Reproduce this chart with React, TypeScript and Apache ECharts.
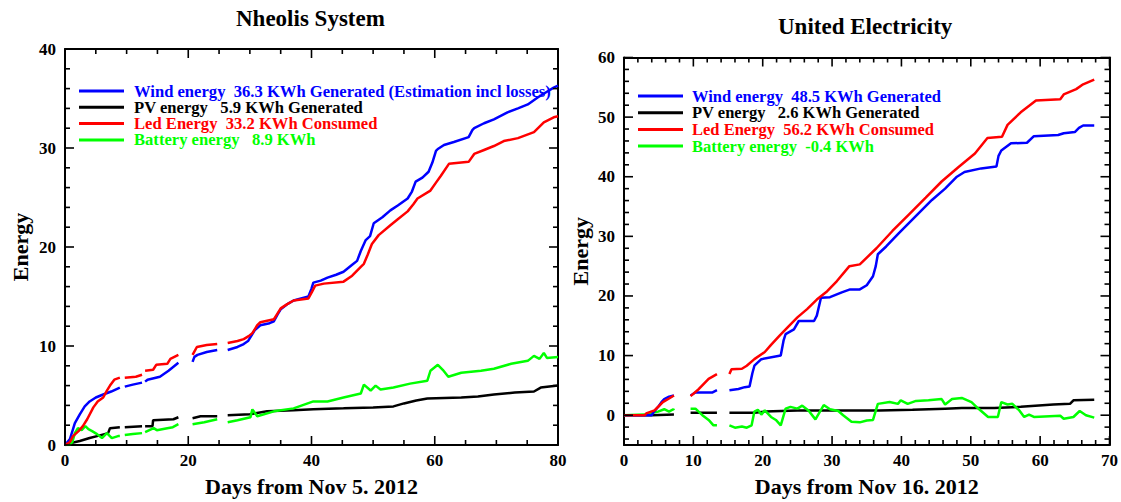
import React, { useEffect, useRef } from "react";
import * as echarts from "echarts";

type Pt = [number, number | null];

const FONT = "'Liberation Serif', 'Times New Roman', serif";

// ---------------- Left chart: Nheolis System ----------------
const leftTitle = "Nheolis System";
const leftXName = "Days from Nov 5. 2012";
const leftXRange: [number, number] = [0, 80];
const leftYRange: [number, number] = [0, 40];
const leftXTicks = [0, 20, 40, 60, 80];
const leftYTicks = [0, 10, 20, 30, 40];
const leftXMinorStep = 5;
const leftYMinorStep = 2;

const leftWindName = "Wind energy  36.3 KWh Generated (Estimation incl losses)";
const leftPvName = "PV energy   5.9 KWh Generated";
const leftLedName = "Led Energy  33.2 KWh Consumed";
const leftBatName = "Battery energy   8.9 KWh";

const leftWind: Pt[] = [
  [0, 0], [0.8, 0.6], [1.6, 2.2], [2.4, 3.1], [3.2, 3.9], [4, 4.4], [5, 4.8], [6.2, 5.1], [7.5, 5.4], [8.9, 5.8],
  [8.95, null], [9.7, 5.9], [11, 6.1], [12.5, 6.3], [12.55, null], [13, 6.4], [13.4, 6.6], [15.4, 6.9], [16.8, 7.5],
  [17.6, 7.9], [18.4, 8.3], [18.5, null], [20.7, 8.4], [21.0, 8.9], [21.5, 9.1], [23, 9.4], [24.7, 9.6], [24.8, null],
  [26.4, 9.6], [28, 9.9], [29, 10.2], [29.7, 10.5], [30.1, 10.9], [30.8, 11.6], [31.7, 12.1], [33.2, 12.3], [33.9, 12.5],
  [34.5, 13.2], [35, 13.7], [36, 14.2], [37.1, 14.6], [39.5, 15.0], [40, 15.8], [40.3, 16.4], [41.5, 16.6], [42.6, 16.9],
  [44, 17.2], [45.2, 17.5], [46.6, 18.2], [47.4, 18.6], [48, 19.6], [48.8, 20.7], [49.5, 21.1], [50.1, 22.4], [51.5, 23.0],
  [52.8, 23.7], [54, 24.2], [55.6, 24.9], [56.3, 25.6], [56.9, 26.6], [58, 27.0], [59, 27.6], [59.6, 28.5], [60.2, 29.7],
  [60.5, 29.9], [61.5, 30.3], [63.1, 30.6], [65.5, 31.1], [66.1, 31.8], [66.4, 32.0], [68, 32.5], [69.6, 32.9],
  [71.8, 33.6], [73.5, 34.0], [75.1, 34.4], [76.7, 35.1], [78, 35.6], [79.3, 36.1], [80, 36.3],
];

const leftLed: Pt[] = [
  [0, 0], [0.8, 0.3], [1.3, 0.9], [2.2, 1.4], [2.9, 1.9], [3.6, 2.6], [4.6, 3.8], [5.3, 4.4], [6.2, 4.8], [6.8, 5.5],
  [7.3, 6.0], [8.0, 6.6], [8.9, 6.8], [8.95, null], [9.7, 6.8], [11.5, 6.9], [12.5, 7.1], [12.55, null], [13, 7.5],
  [14.3, 7.6], [14.8, 8.1], [16.6, 8.2], [17.1, 8.7], [18.4, 9.1], [18.5, null], [20.7, 9.1], [21.4, 9.9], [23, 10.1],
  [24.7, 10.2], [24.8, null], [26.4, 10.3], [28, 10.5], [29, 10.7], [29.8, 11.0], [30.4, 11.3], [31.2, 12.1], [31.7, 12.4],
  [33.9, 12.7], [34.5, 13.3], [35, 13.8], [36, 14.2], [37.1, 14.6], [39.5, 14.8], [40.1, 15.5], [40.6, 16.1], [42, 16.3],
  [45.2, 16.5], [46.6, 17.1], [48, 18.0], [48.5, 18.3], [49.1, 19.2], [49.8, 20.3], [50.9, 21.2], [52.8, 22.2], [54, 22.8],
  [55.6, 23.6], [56.5, 24.3], [57.2, 24.9], [59.3, 25.7], [60.2, 26.5], [61, 27.2], [62.3, 28.4], [65.5, 28.6], [66.4, 29.4],
  [68, 29.8], [69.6, 30.2], [71.2, 30.7], [73.5, 31.0], [76.1, 31.6], [77.7, 32.6], [79.3, 33.1], [80, 33.2],
];

const leftPv: Pt[] = [
  [0, 0], [1, 0.2], [2.4, 0.4], [4, 0.7], [5.2, 0.9], [7.0, 1.2], [7.3, 1.7], [8.9, 1.8], [8.95, null], [9.7, 1.8],
  [12.5, 1.9], [12.55, null], [13, 1.9], [14.2, 1.9], [14.3, 2.5], [17.6, 2.6], [18.4, 2.8], [18.5, null], [20.7, 2.7],
  [22, 2.9], [24.7, 2.9], [24.8, null], [26.4, 3.0], [30, 3.1], [32.8, 3.4], [37.1, 3.5], [40.3, 3.6], [45.2, 3.7],
  [50, 3.8], [53.3, 3.9], [55, 4.2], [57, 4.5], [58.8, 4.7], [64.3, 4.8], [67, 4.9], [69.6, 5.1], [73, 5.3], [76.1, 5.4],
  [77.2, 5.8], [80, 6.0],
];

const leftBat: Pt[] = [
  [0, 0], [0.8, 0], [1.2, 0.3], [1.6, 1.2], [2.1, 1.7], [2.7, 1.5], [3.3, 1.9], [3.8, 1.6], [4.4, 1.4], [5.2, 1.1],
  [6, 0.7], [6.8, 1.2], [7.6, 0.7], [8.6, 0.9], [8.9, 0.9], [8.95, null], [9.7, 1.0], [11, 1.1], [12.5, 1.2], [12.55, null],
  [13, 1.3], [14.4, 1.7], [14.9, 1.5], [16.6, 1.7], [17.5, 1.8], [18.4, 2.1], [18.5, null], [20.7, 2.1], [22.6, 2.3],
  [24.7, 2.6], [24.8, null], [26.4, 2.3], [28, 2.5], [30.1, 2.8], [30.4, 3.6], [31.2, 2.9], [33.9, 3.4], [37.1, 3.7],
  [40.3, 4.4], [42.6, 4.4], [45.2, 4.8], [48, 5.2], [48.5, 6.1], [49.6, 5.5], [50.4, 6.0], [51.2, 5.6], [53.3, 5.8],
  [56, 6.2], [58.8, 6.5], [59.3, 7.5], [60.5, 8.1], [61.3, 7.6], [62.2, 6.9], [64.3, 7.3], [67.5, 7.5], [69.6, 7.7],
  [72.4, 8.2], [75.1, 8.5], [76.1, 9.0], [77, 8.7], [77.7, 9.3], [78.2, 8.8], [80, 8.9],
];

// ---------------- Right chart: United Electricity ----------------
const rightTitle = "United Electricity";
const rightXName = "Days from Nov 16. 2012";
const rightXRange: [number, number] = [0, 70];
const rightYRange: [number, number] = [-5, 60];
const rightXTicks = [0, 10, 20, 30, 40, 50, 60, 70];
const rightYTicks = [0, 10, 20, 30, 40, 50, 60];
const rightXMinorStep = 2;
const rightYMinorStep = 2;

const rightWindName = "Wind energy  48.5 KWh Generated";
const rightPvName = "PV energy   2.6 KWh Generated";
const rightLedName = "Led Energy  56.2 KWh Consumed";
const rightBatName = "Battery energy  -0.4 KWh";

const rightWind: Pt[] = [
  [0, 0], [4, 0], [4.2, 0.4], [5.0, 1.5], [5.4, 2.2], [5.8, 2.7], [6.5, 3.1], [7.2, 3.3], [7.3, null], [9.6, 3.3],
  [10.3, 3.8], [12.7, 3.8], [13.4, 4.2], [13.5, null], [15.2, 4.2], [16.5, 4.4], [17.4, 4.7], [18.1, 4.8], [18.5, 7.0],
  [18.8, 8.3], [19.8, 9.4], [22.6, 10.0], [23.0, 12.5], [23.3, 13.6], [24.5, 14.4], [25.2, 15.8], [27.4, 15.8],
  [27.8, 16.7], [28.4, 19.7], [29.7, 19.8], [31.4, 20.6], [32.6, 21.1], [34, 21.1], [35, 21.8], [35.9, 23.3],
  [36.3, 25.0], [36.6, 27.0], [37.8, 28.3], [39.6, 30.5], [42, 33.3], [44.4, 36.1], [46.3, 38.0], [48, 40.0],
  [49.1, 40.8], [51.5, 41.4], [53.7, 41.7], [54.0, 43.5], [54.4, 44.4], [55.8, 45.6], [58.1, 45.7], [59.1, 46.8],
  [62.6, 47.0], [63.4, 47.3], [65, 47.5], [65.6, 48.2], [66.2, 48.6], [67.8, 48.6],
];

const rightLed: Pt[] = [
  [0, 0], [3, 0], [3.2, 0.3], [4.4, 0.8], [5.0, 1.5], [5.6, 2.2], [6.5, 2.8], [7.2, 3.3], [7.3, null], [9.6, 3.2],
  [10.8, 4.4], [12.2, 6.1], [13.4, 6.9], [13.5, null], [15.2, 6.9], [15.5, 7.7], [17, 7.8], [17.7, 8.3], [18.8, 9.4],
  [20.3, 10.6], [21.2, 11.8], [22.4, 13.3], [23.8, 15.0], [25, 16.4], [26.4, 17.8], [27.8, 19.4], [29.3, 20.8],
  [30.7, 22.5], [32.5, 25.0], [34, 25.3], [36.4, 28.0], [38.7, 30.9], [41.1, 33.7], [43.5, 36.5], [45.8, 39.2],
  [48.2, 41.6], [50.6, 43.9], [52.4, 46.5], [54.5, 46.7], [55.3, 48.7], [57.2, 50.8], [59.4, 52.8], [62.9, 53.0],
  [63.4, 53.8], [65.2, 54.7], [66.2, 55.5], [67.8, 56.3],
];

const rightPv: Pt[] = [
  [0, 0], [4, 0], [7.2, 0.1], [7.3, null], [9.6, 0.4], [13.4, 0.4], [13.5, null], [15.2, 0.4], [18.8, 0.4], [20.3, 0.6],
  [25, 0.8], [29.7, 0.8], [36.8, 0.8], [41.6, 0.9], [46.3, 1.1], [48.7, 1.2], [53.4, 1.2], [57.2, 1.4], [61.9, 1.8],
  [64.3, 1.9], [64.8, 2.5], [67.8, 2.6],
];

const rightBat: Pt[] = [
  [0, 0], [3, 0.1], [4.9, 0.6], [5.8, 1.0], [6.5, 0.6], [7.1, 1.0], [7.2, 0.8], [7.3, null], [9.6, 1.1], [10.3, 1.1],
  [11.3, 0], [12.2, -0.8], [12.9, -1.7], [13.4, -1.7], [13.5, null], [15.2, -1.7], [16, -2.1], [17, -1.9], [17.7, -2.1],
  [18.4, -1.7], [18.8, 0.6], [19.3, 0.9], [19.8, 0.1], [20.3, 0.8], [21.2, -0.3], [21.9, -0.8], [22.6, -1.7], [23.3, 1.1],
  [24, 1.4], [25, 1.1], [25.7, 1.6], [26.6, 0.8], [27.6, -0.7], [28.8, 1.7], [29.7, 1.0], [30.9, 0.7], [31.6, 0],
  [32.8, -1.1], [34, -1.2], [35, -0.9], [35.9, -0.8], [36.6, 1.9], [38.3, 2.2], [39.5, 1.9], [39.9, 2.5], [40.9, 1.9],
  [42.1, 2.4], [43.9, 2.5], [45.8, 2.7], [46.3, 1.8], [47.3, 2.7], [48.7, 2.9], [50.1, 2.2], [51, 1.2], [52.5, -0.3],
  [53.9, -0.3], [54.4, 2.2], [55.3, 1.8], [56, 1.9], [57, 0.8], [57.7, -0.3], [58.4, 0.1], [59.1, -0.3], [62.9, -0.1],
  [63.4, -0.6], [64.8, -0.3], [65.7, 0.7], [66.6, 0], [67.8, -0.4],
];

const BLUE = "#0000ff";
const BLACK = "#000000";
const RED = "#ff0000";
const GREEN = "#00ff00";
const SERIES_COLORS = [BLUE, BLACK, RED, GREEN];

function minorValues(min: number, max: number, step: number, majors: number[]) {
  const out: number[] = [];
  for (let v = Math.ceil(min / step) * step; v <= max + 1e-9; v += step) {
    const r = Math.round(v * 1000) / 1000;
    if (!majors.includes(r)) out.push(r);
  }
  return out;
}

const labelStyle = () => ({ fontFamily: FONT, fontWeight: "bold", fontSize: 17, color: "#000" });
const nameStyle = () => ({ fontFamily: FONT, fontWeight: "bold", fontSize: 22, color: "#000" });

function frameAxes(
  dim: "x" | "y",
  gridIndex: number,
  range: [number, number],
  majors: number[],
  name: string,
  nameGap: number
) {
  const positions = dim === "x" ? ["bottom", "top"] : ["left", "right"];
  const interval = majors[1] - majors[0];
  const evenMin = range[0] % interval === 0;
  return positions.map((p, i) => ({
    type: "value",
    gridIndex,
    position: p,
    min: range[0],
    max: range[1],
    ...(evenMin ? { interval } : {}),
    splitLine: { show: false },
    axisLine: { show: true, onZero: false, lineStyle: { color: "#000", width: 2 } },
    axisTick: { show: false },
    axisLabel:
      i === 0
        ? { show: true, margin: dim === "x" ? 7 : 9, ...(evenMin ? {} : { customValues: majors }), ...labelStyle() }
        : { show: false },
    ...(i === 0 ? { name, nameLocation: "middle", nameGap, nameTextStyle: nameStyle() } : {}),
  }));
}

function lineSeries(name: string, data: Pt[], color: string, axisIndex: number) {
  return {
    type: "line",
    name,
    data,
    xAxisIndex: axisIndex,
    yAxisIndex: axisIndex,
    showSymbol: false,
    itemStyle: { color },
    lineStyle: { color, width: 2.5 },
  };
}

// Legend drawn as graphic rows (icon line + coloured text).
function legendGraphics(
  names: string[],
  iconLeft: number,
  textLeft: number,
  firstY: number,
  rowGap: number,
  fontSize: number
) {
  const els: any[] = [];
  names.forEach((n, i) => {
    const y = firstY + i * rowGap;
    els.push({
      type: "rect",
      shape: { x: iconLeft, y: y - 1.5, width: 45, height: 3 },
      style: { fill: SERIES_COLORS[i] },
      silent: true,
    });
    els.push({
      type: "text",
      x: textLeft,
      y,
      silent: true,
      style: {
        text: n,
        fill: SERIES_COLORS[i],
        fontFamily: FONT,
        fontSize,
        fontWeight: "bold",
        align: "left",
        verticalAlign: "middle",
      },
    });
  });
  return els;
}

// Inward tick marks on all four sides, positioned with the chart's own axes.
function tickGraphics(
  chart: any,
  axisIndex: number,
  xRange: [number, number],
  yRange: [number, number],
  xMajors: number[],
  xStep: number,
  yMajors: number[],
  yStep: number
) {
  const finder = { xAxisIndex: axisIndex, yAxisIndex: axisIndex };
  const px = (x: number, y: number) => chart.convertToPixel(finder, [x, y]) as number[];
  const els: any[] = [];
  const seg = (x1: number, y1: number, x2: number, y2: number) =>
    els.push({
      type: "line",
      silent: true,
      z: 100,
      shape: { x1, y1, x2, y2 },
      style: { stroke: "#000000", lineWidth: 1.6 },
    });
  const xs: [number, number][] = [
    ...xMajors.map((v) => [v, 9] as [number, number]),
    ...minorValues(xRange[0], xRange[1], xStep, xMajors).map((v) => [v, 5] as [number, number]),
  ];
  const ys: [number, number][] = [
    ...yMajors.map((v) => [v, 9] as [number, number]),
    ...minorValues(yRange[0], yRange[1], yStep, yMajors).map((v) => [v, 5] as [number, number]),
  ];
  xs.forEach(([v, len]) => {
    const b = px(v, yRange[0]);
    const t = px(v, yRange[1]);
    if (!b || !t) return;
    seg(b[0], b[1], b[0], b[1] - len);
    seg(t[0], t[1], t[0], t[1] + len);
  });
  ys.forEach(([v, len]) => {
    const l = px(xRange[0], v);
    const r = px(xRange[1], v);
    if (!l || !r) return;
    seg(l[0], l[1], l[0] + len, l[1]);
    seg(r[0], r[1], r[0] - len, r[1]);
  });
  return els;
}

export default function App() {
  const ref = useRef<HTMLDivElement>(null);
  useEffect(() => {
    if (!ref.current) return;
    const chart = echarts.init(ref.current, undefined, { renderer: "svg" });
    const option: any = {
      animation: false,
      backgroundColor: "#ffffff",
      title: [
        { text: leftTitle, left: 231, top: 2, textStyle: { fontFamily: FONT, fontWeight: "bold", fontSize: 23, color: "#000" } },
        { text: rightTitle, left: 773, top: 10, textStyle: { fontFamily: FONT, fontWeight: "bold", fontSize: 23, color: "#000" } },
      ],
      grid: [
        { left: 65, top: 49, width: 493, height: 400 },
        { left: 624, top: 57.5, width: 492, height: 392.5 },
      ],
      xAxis: [
        ...frameAxes("x", 0, leftXRange, leftXTicks, leftXName, 30),
        ...frameAxes("x", 1, rightXRange, rightXTicks, rightXName, 30),
      ],
      yAxis: [
        ...frameAxes("y", 0, leftYRange, leftYTicks, "Energy", 34),
        ...frameAxes("y", 1, rightYRange, rightYTicks, "Energy", 33),
      ],
      series: [
        lineSeries(leftPvName, leftPv, BLACK, 0),
        lineSeries(leftBatName, leftBat, GREEN, 0),
        lineSeries(leftWindName, leftWind, BLUE, 0),
        lineSeries(leftLedName, leftLed, RED, 0),
        lineSeries(rightPvName, rightPv, BLACK, 2),
        lineSeries(rightBatName, rightBat, GREEN, 2),
        lineSeries(rightWindName, rightWind, BLUE, 2),
        lineSeries(rightLedName, rightLed, RED, 2),
      ],
    };
    chart.setOption(option);

    const elements = [
      ...legendGraphics([leftWindName, leftPvName, leftLedName, leftBatName], 79, 134, 91, 16.3, 16.6),
      ...legendGraphics([rightWindName, rightPvName, rightLedName, rightBatName], 638, 692, 96, 16.7, 16.5),
      ...tickGraphics(chart, 0, leftXRange, leftYRange, leftXTicks, leftXMinorStep, leftYTicks, leftYMinorStep),
      ...tickGraphics(chart, 2, rightXRange, rightYRange, rightXTicks, rightXMinorStep, rightYTicks, rightYMinorStep),
    ];
    chart.setOption({ graphic: { elements } });
    return () => chart.dispose();
  }, []);
  return <div ref={ref} style={{ position: "fixed", left: 0, top: 0, width: 1121, height: 502 }} />;
}
